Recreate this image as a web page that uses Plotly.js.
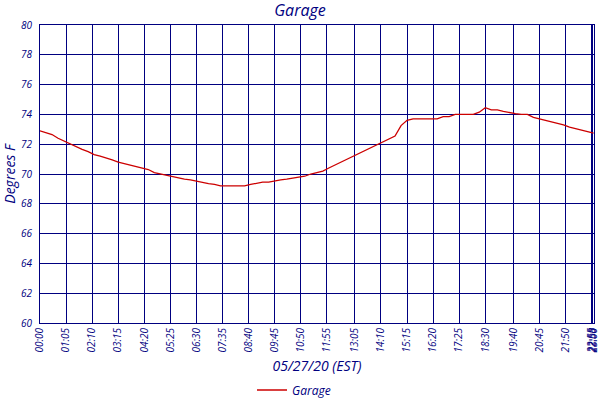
<!DOCTYPE html>
<html>
<head>
<meta charset="utf-8">
<script src="https://cdn.plot.ly/plotly-3.0.1.min.js"></script>
<style>html,body{margin:0;padding:0;background:#fff;}#chart{width:600px;height:400px;}</style>
</head>
<body>
<div id="chart"></div>
<script>
var dateStr = '2020-05-27';
var times = ['00:00','00:15','00:30','00:45','01:00','01:15','01:30','01:45','02:00','02:15','02:30','02:45',
 '03:00','03:15','03:30','03:45','04:00','04:15','04:30','04:45','05:00','05:15','05:30','05:45',
 '06:00','06:15','06:30','06:45','07:00','07:15','07:30','07:45','08:00','08:15','08:30','08:45',
 '09:00','09:15','09:30','09:45','10:00','10:15','10:30','10:45','11:00','11:15','11:30','11:45',
 '12:00','12:15','12:30','12:45','13:00','13:15','13:30','13:45','14:00','14:15','14:30','14:45',
 '15:00','15:15','15:30','15:45','16:00','16:15','16:30','16:45','17:00','17:15','17:30','17:45',
 '18:00','18:15','18:30','18:45','19:00','19:15','19:30','19:45','20:00','20:15','20:30','20:45',
 '21:00','21:15','21:30','21:45','22:00','22:15','22:30','22:45','23:00'];
var garage = [72.9,72.8,72.65,72.4,72.2,72.0,71.8,71.65,71.5,71.3,71.2,71.1,
 70.95,70.8,70.7,70.55,70.45,70.4,70.3,70.1,70.0,69.9,69.85,69.75,
 69.65,69.6,69.5,69.45,69.35,69.3,69.2,69.2,69.2,69.2,69.2,69.3,
 69.4,69.45,69.45,69.55,69.6,69.65,69.7,69.75,69.85,70.0,70.1,70.2,
 70.4,70.6,70.8,71.0,71.15,71.35,71.55,71.75,72.0,72.2,72.35,72.55,
 73.25,73.6,73.7,73.7,73.7,73.7,73.7,73.85,73.85,74.0,74.0,74.0,
 74.0,74.15,74.45,74.3,74.3,74.2,74.15,74.05,74.0,74.0,73.8,73.7,
 73.65,73.5,73.4,73.3,73.15,73.05,72.9,72.8,72.75];
var tickLabels = ['00:00','01:05','02:10','03:15','04:20','05:25','06:30','07:35','08:40','09:45',
 '10:50','11:55','13:05','14:10','15:15','16:20','17:25','18:30','19:40','20:45','21:50','22:55','22:58','23:00'];
var yTicks = [60,62,64,66,68,70,72,74,76,78,80];

var navy = '#000080';
var fnt = 'Open Sans, sans-serif';
var x = times.map(function(t){return dateStr + ' ' + t;});
var tv = tickLabels.map(function(t){return dateStr + ' ' + t;});

var trace = {
  x: x, y: garage, type: 'scatter', mode: 'lines', name: '<i>Garage</i>',
  line: {color: '#cc0000', width: 1.3}
};
var layout = {
  width: 600, height: 400,
  margin: {l: 40, r: 6, t: 25, b: 77},
  paper_bgcolor: '#fff', plot_bgcolor: '#fff',
  title: {text: '<i>Garage</i>', x: 0.5, xanchor: 'center', y: 0.975, yanchor: 'middle',
    font: {family: fnt, size: 16, color: navy}},
  xaxis: {
    type: 'date', range: [dateStr + ' 00:00', dateStr + ' 23:01'],
    tickmode: 'array', tickvals: tv, ticktext: tickLabels.map(function(t){return '<i>'+t+'</i>';}),
    tickangle: -90, ticks: '', tickfont: {family: fnt, size: 10, color: navy},
    ticklabeloverflow: 'allow',
    showgrid: true, gridcolor: navy, gridwidth: 1,
    showline: true, linecolor: navy, linewidth: 1, mirror: true, zeroline: false,
    title: {text: '<i>05/27/20 (EST)</i>', font: {family: fnt, size: 14, color: navy}, standoff: 10}
  },
  yaxis: {
    range: [60, 80], tickmode: 'array', tickvals: yTicks,
    ticktext: yTicks.map(function(v){return '<i>'+v+'</i>';}),
    ticks: '', tickfont: {family: fnt, size: 10, color: navy}, ticklabelstandoff: 5,
    showgrid: true, gridcolor: navy, gridwidth: 1,
    showline: true, linecolor: navy, linewidth: 1, mirror: true, zeroline: false,
    title: {text: '<i>Degrees F</i>', font: {family: fnt, size: 14, color: navy}, standoff: 4}
  },
  showlegend: true,
  legend: {orientation: 'h', xref: 'container', yref: 'container', x: 0.49, xanchor: 'center',
    y: 0.025, yanchor: 'middle', font: {family: fnt, size: 12, color: navy}, itemwidth: 30}
};
Plotly.newPlot('chart', [trace], layout, {staticPlot: true, displayModeBar: false});
</script>
</body>
</html>
